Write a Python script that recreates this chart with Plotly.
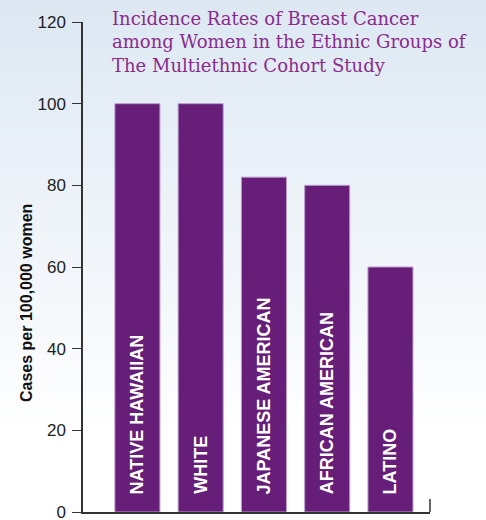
import plotly.graph_objects as go

categories = ["NATIVE HAWAIIAN", "WHITE", "JAPANESE AMERICAN", "AFRICAN AMERICAN", "LATINO"]
values = [100, 100, 82, 80, 60]
y_ticks = [0, 20, 40, 60, 80, 100, 120]

title_text = ("Incidence Rates of Breast Cancer<br>"
              "among Women in the Ethnic Groups of<br>"
              "The Multiethnic Cohort Study")
y_title = "Cases per 100,000 women"

W, H = 486, 520
L, R, T, B = 83, 56, 22, 8
pw, ph = W - L - R, H - T - B


def px_to_paper_y(py):
    return (H - B - py) / ph


fig = go.Figure()
fig.add_trace(go.Bar(
    x=categories, y=values, width=0.712,
    marker=dict(color="#661e78", line=dict(color="#b89ccb", width=1)),
    hoverinfo="skip",
))

# background gradient (light blue at top fading to white)
shapes = []
n = 60
top = (221, 232, 243)
for i in range(n):
    py0 = i * H / n
    py1 = (i + 1) * H / n
    frac = min(1.0, py0 / 430)
    c = tuple(int(round(top[k] + (255 - top[k]) * frac)) for k in range(3))
    shapes.append(dict(type="rect", xref="paper", yref="paper",
                       x0=(0 - L) / pw, x1=(W - L) / pw,
                       y0=px_to_paper_y(py1) - 0.001, y1=px_to_paper_y(py0) + 0.001,
                       fillcolor="rgb(%d,%d,%d)" % c, line=dict(width=0), layer="below"))
# right end tick of x axis
shapes.append(dict(type="line", xref="paper", yref="paper", x0=1, x1=1,
                   y0=0, y1=13 / ph, line=dict(color="#333333", width=1.5)))

annotations = []
for c in categories:
    annotations.append(dict(x=c, y=0, xref="x", yref="y", text="<b>" + c + "</b>", textangle=-90,
                            showarrow=False, yanchor="bottom", xanchor="center", yshift=16,
                            font=dict(family="Liberation Sans, Arial", size=18, color="white")))
annotations.append(dict(x=(110 - L) / pw, y=px_to_paper_y(6), xref="paper", yref="paper",
                        text=title_text, showarrow=False, xanchor="left", yanchor="top", align="left",
                        font=dict(family="DejaVu Serif, serif", size=18, color="#8a2b8b")))
annotations.append(dict(x=(26 - L) / pw, y=px_to_paper_y(303), xref="paper", yref="paper",
                        text="<b>" + y_title + "</b>", textangle=-90, showarrow=False,
                        xanchor="center", yanchor="middle",
                        font=dict(family="Liberation Sans, Arial", size=16, color="#111111")))

fig.update_layout(
    width=W, height=H,
    margin=dict(l=L, r=R, t=T, b=B, pad=0, autoexpand=False),
    paper_bgcolor="white", plot_bgcolor="rgba(0,0,0,0)",
    showlegend=False,
    shapes=shapes, annotations=annotations,
    xaxis=dict(range=[-0.86, 4.625], showticklabels=False, ticks="", showgrid=False,
               showline=True, linecolor="#333333", linewidth=1.5, zeroline=False,
               fixedrange=True, automargin=False),
    yaxis=dict(range=[0, 120], tickvals=y_ticks, ticks="outside", ticklen=9, tickwidth=1.2,
               tickcolor="#333333", showgrid=False, showline=True, linecolor="#333333",
               linewidth=1.5, zeroline=False, ticklabeloverflow="allow", automargin=False,
               ticklabelstandoff=3,
               tickfont=dict(family="Liberation Sans, Arial", size=17, color="#222222")),
)

fig.write_html("out.html", config={"displayModeBar": False},
               post_script="document.body.style.margin='0';document.body.style.padding='0';")
